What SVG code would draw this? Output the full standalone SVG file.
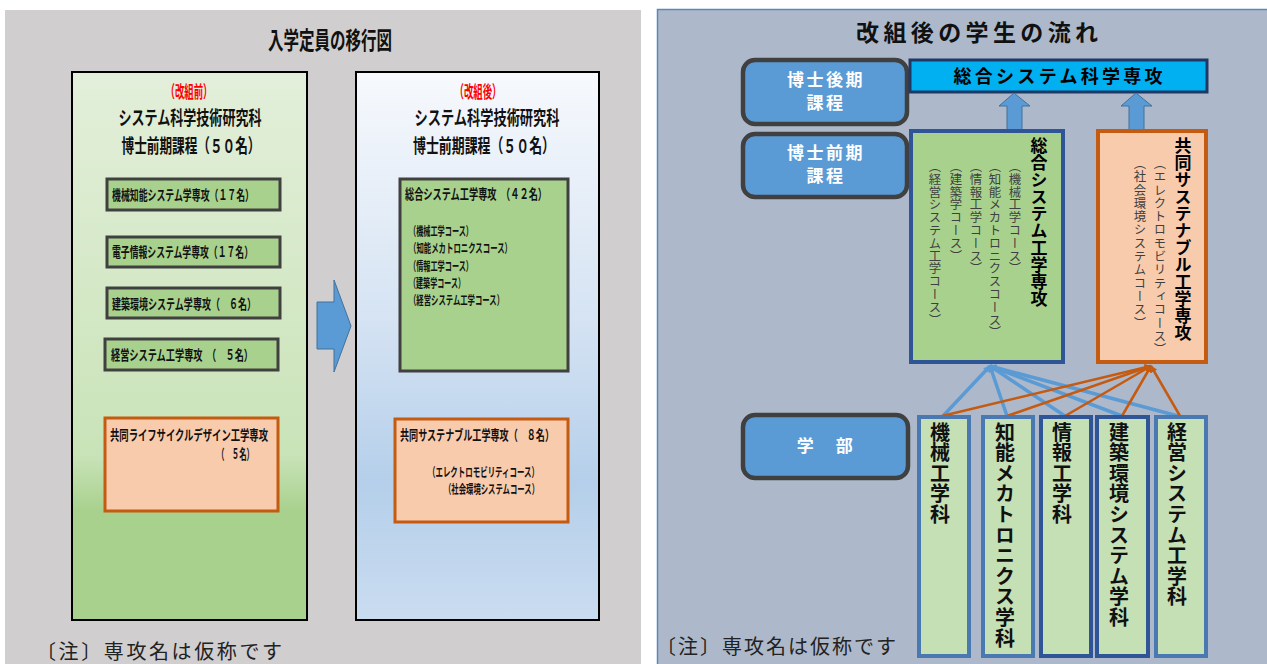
<svg xmlns="http://www.w3.org/2000/svg" width="1267" height="664" viewBox="0 0 1267 664">
<defs>
<linearGradient id="gGreen" x1="0" y1="0" x2="0" y2="1">
<stop offset="0" stop-color="#e3efda"/>
<stop offset="0.7" stop-color="#c9e3b8"/>
<stop offset="0.8" stop-color="#a9d18e"/>
<stop offset="1" stop-color="#a9d18e"/>
</linearGradient>
<linearGradient id="gBlue" x1="0" y1="0" x2="0" y2="1">
<stop offset="0" stop-color="#f7f9fd"/>
<stop offset="0.45" stop-color="#d5e3f3"/>
<stop offset="0.75" stop-color="#b5cfea"/>
<stop offset="1" stop-color="#cadcf0"/>
</linearGradient>
<marker id="mBlue" viewBox="0 0 10 10" refX="9" refY="5" markerWidth="7" markerHeight="7" markerUnits="userSpaceOnUse" orient="auto">
<path d="M0,0 L10,5 L0,10 z" fill="#5b9bd5"/>
</marker>
<marker id="mOrange" viewBox="0 0 10 10" refX="9" refY="5" markerWidth="7" markerHeight="7" markerUnits="userSpaceOnUse" orient="auto">
<path d="M0,0 L10,5 L0,10 z" fill="#c55a11"/>
</marker>
<style>
text{font-family:"Noto Sans CJK JP","Noto Sans CJK SC",sans-serif;}
.cond{font-weight:700;fill:#111;}
.red{fill:#ff0000;}
.big{stroke:#000;stroke-width:2;}
.sg{fill:#a9d18e;stroke:#404040;stroke-width:3;}
.so{fill:#f8cbad;stroke:#c55a11;stroke-width:3;}
.rr{fill:#5b9bd5;stroke:#404040;stroke-width:4.5;}
.wt{fill:#fff;font-weight:700;font-size:17px;letter-spacing:2.5px;text-anchor:middle;}
.vt{writing-mode:vertical-rl;}
.vb{font-weight:700;font-size:17px;fill:#000;}
.vc{font-size:12.4px;fill:#404040;letter-spacing:0.4px;}
.vd{font-weight:700;font-size:20px;fill:#111;letter-spacing:0.6px;}
.dept{fill:#c5e0b4;stroke-width:4;}
.dl{stroke:#4a78b0;}
.dd{stroke:#2f5597;}
.note{font-size:20px;fill:#222;}
.blk{fill:#5b9bd5;stroke:#41719c;stroke-width:1;}
.cb{stroke:#5b9bd5;stroke-width:3.5;fill:none;}
.co{stroke:#c55a11;stroke-width:2.5;fill:none;}
</style>
</defs>
<rect x="0" y="0" width="1267" height="664" fill="#fff"/>

<g id="left-panel">
<rect x="5" y="10" width="636" height="660" fill="#d0cecf"/>
<text class="cond" x="330" y="49" font-size="24" text-anchor="middle" textLength="124" lengthAdjust="spacingAndGlyphs">入学定員の移行図</text>
</g>

<g id="before-box">
<rect class="big" x="72" y="72" width="235" height="548" fill="url(#gGreen)"/>
<text class="cond red" x="189" y="98" font-size="17" text-anchor="middle" textLength="47" lengthAdjust="spacingAndGlyphs">（改組前）</text>
<text class="cond" x="190" y="125" font-size="19" text-anchor="middle" textLength="143" lengthAdjust="spacingAndGlyphs">システム科学技術研究科</text>
<text class="cond" x="191" y="153" font-size="19" text-anchor="middle" textLength="139" lengthAdjust="spacingAndGlyphs">博士前期課程（５０名）</text>
</g>

<g id="b1"><rect class="sg" x="107" y="179" width="173" height="31"/>
<text class="cond" x="112" y="200" font-size="14" textLength="142" lengthAdjust="spacingAndGlyphs">機械知能システム学専攻（１７名）</text></g>
<g id="b2"><rect class="sg" x="107" y="237" width="173" height="30"/>
<text class="cond" x="112" y="257" font-size="14" textLength="141" lengthAdjust="spacingAndGlyphs">電子情報システム学専攻（１７名）</text></g>
<g id="b3"><rect class="sg" x="107" y="288" width="173" height="30"/>
<text class="cond" x="112" y="309" font-size="14" textLength="144" lengthAdjust="spacingAndGlyphs">建築環境システム学専攻（　６名）</text></g>
<g id="b4"><rect class="sg" x="105" y="339" width="173" height="31"/>
<text class="cond" x="111" y="360" font-size="14" textLength="142" lengthAdjust="spacingAndGlyphs">経営システム工学専攻　（　５名）</text></g>
<g id="b5"><rect class="so" x="105" y="418" width="173" height="93"/>
<text class="cond" x="110" y="440" font-size="14" textLength="158" lengthAdjust="spacingAndGlyphs">共同ライフサイクルデザイン工学専攻</text>
<text class="cond" x="217" y="459" font-size="14" textLength="37" lengthAdjust="spacingAndGlyphs">（　５名）</text></g>

<g id="arrow-right">
<polygon class="blk" points="317,302 334,302 334,280 351,326 334,372 334,349 317,349"/>
</g>

<g id="after-box">
<rect class="big" x="356" y="72" width="243" height="548" fill="url(#gBlue)"/>
<text class="cond red" x="478" y="98" font-size="17" text-anchor="middle" textLength="47" lengthAdjust="spacingAndGlyphs">（改組後）</text>
<text class="cond" x="487" y="125" font-size="19" text-anchor="middle" textLength="145" lengthAdjust="spacingAndGlyphs">システム科学技術研究科</text>
<text class="cond" x="484" y="153" font-size="19" text-anchor="middle" textLength="142" lengthAdjust="spacingAndGlyphs">博士前期課程（５０名）</text>
</g>

<g id="a1"><rect class="sg" x="400" y="179" width="168" height="192"/>
<text class="cond" x="405" y="199" font-size="14" textLength="142" lengthAdjust="spacingAndGlyphs">総合システム工学専攻　（４２名）</text>
<text class="cond" x="409" y="236" font-size="12.5" textLength="64" lengthAdjust="spacingAndGlyphs">（機械工学コース）</text>
<text class="cond" x="409" y="253" font-size="12.5" textLength="103" lengthAdjust="spacingAndGlyphs">（知能メカトロニクスコース）</text>
<text class="cond" x="409" y="271" font-size="12.5" textLength="64" lengthAdjust="spacingAndGlyphs">（情報工学コース）</text>
<text class="cond" x="409" y="288" font-size="12.5" textLength="56" lengthAdjust="spacingAndGlyphs">（建築学コース）</text>
<text class="cond" x="409" y="305" font-size="12.5" textLength="95" lengthAdjust="spacingAndGlyphs">（経営システム工学コース）</text></g>
<g id="a2"><rect class="so" x="395" y="419" width="173" height="103"/>
<text class="cond" x="400" y="440" font-size="14" textLength="154" lengthAdjust="spacingAndGlyphs">共同サステナブル工学専攻（　８名）</text>
<text class="cond" x="428" y="477" font-size="12.5" textLength="111" lengthAdjust="spacingAndGlyphs">（エレクトロモビリティコース）</text>
<text class="cond" x="444" y="494" font-size="12.5" textLength="95" lengthAdjust="spacingAndGlyphs">（社会環境システムコース）</text></g>

<g id="note-left">
<text class="note" x="36" y="659" textLength="246" lengthAdjust="spacing">〔注〕専攻名は仮称です</text>
</g>

<g id="right-panel">
<rect x="657.5" y="9.5" width="612" height="660" fill="#adb9ca" stroke="#5b87c0" stroke-width="1.5"/>
<text x="977" y="41" font-size="23" font-weight="700" fill="#111" text-anchor="middle" textLength="242" lengthAdjust="spacing">改組後の学生の流れ</text>
</g>

<g id="doc-late"><rect class="rr" x="743" y="60" width="164" height="64" rx="12"/>
<text class="wt" x="826" y="86">博士後期</text><text class="wt" x="826" y="109">課程</text></g>
<g id="doc-early"><rect class="rr" x="743" y="134" width="164" height="63" rx="12"/>
<text class="wt" x="826" y="159">博士前期</text><text class="wt" x="826" y="182">課程</text></g>
<g id="undergrad"><rect class="rr" x="743" y="415" width="165" height="63" rx="12"/>
<text class="wt" x="826" y="452">学　部</text></g>

<g id="sogo-sci"><rect x="910" y="60" width="297" height="32" fill="#00b0f0" stroke="#203864" stroke-width="3"/>
<text x="1058" y="83" font-size="18" font-weight="700" fill="#000" text-anchor="middle" textLength="209" lengthAdjust="spacing">総合システム科学専攻</text></g>

<g id="up-arrows">
<polygon class="blk" points="1014,93 1030,106 1022,106 1022,131 1007,131 1007,106 999,106"/>
<polygon class="blk" points="1136,93 1152,106 1144,106 1144,131 1129,131 1129,106 1121,106"/>
</g>

<g id="sogo-eng"><rect x="911" y="131" width="152" height="231" fill="#a9d18e" stroke="#2f5597" stroke-width="4"/>
<text class="vt vb" x="1039" y="137">総合システム工学専攻</text>
<text class="vt vc" x="1015" y="160">（機械工学コース）</text>
<text class="vt vc" x="995" y="160">（知能メカトロニクスコース）</text>
<text class="vt vc" x="976" y="160">（情報工学コース）</text>
<text class="vt vc" x="956" y="160">（建築学コース）</text>
<text class="vt vc" x="935" y="160">（経営システム工学コース）</text></g>

<g id="sustainable"><rect x="1098" y="131" width="108" height="231" fill="#f8cbad" stroke="#c55a11" stroke-width="4"/>
<text class="vt vb" x="1183" y="137">共同サステナブル工学専攻</text>
<text class="vt vc" x="1160" y="157" style="letter-spacing:0.9px">（エレクトロモビリティコース）</text>
<text class="vt vc" x="1140" y="157" style="letter-spacing:0.9px">（社会環境システムコース）</text></g>

<g id="connectors">
<line class="cb" x1="943" y1="416" x2="990" y2="366" marker-end="url(#mBlue)"/>
<line class="cb" x1="1007" y1="416" x2="990" y2="366" marker-end="url(#mBlue)"/>
<line class="cb" x1="1065" y1="416" x2="990" y2="366" marker-end="url(#mBlue)"/>
<line class="cb" x1="1122" y1="416" x2="990" y2="366" marker-end="url(#mBlue)"/>
<line class="cb" x1="1178" y1="416" x2="990" y2="366" marker-end="url(#mBlue)"/>
<line class="co" x1="942" y1="416" x2="1151" y2="366" marker-end="url(#mOrange)"/>
<line class="co" x1="1007" y1="416" x2="1151" y2="366" marker-end="url(#mOrange)"/>
<line class="co" x1="1065" y1="416" x2="1151" y2="366" marker-end="url(#mOrange)"/>
<line class="co" x1="1122" y1="416" x2="1151" y2="366" marker-end="url(#mOrange)"/>
<line class="co" x1="1180" y1="416" x2="1151" y2="366" marker-end="url(#mOrange)"/>
</g>

<g id="d1"><rect class="dept dl" x="919" y="417" width="50" height="239"/>
<text class="vt vd" x="940" y="422">機械工学科</text></g>
<g id="d2"><rect class="dept dl" x="983" y="417" width="50" height="239"/>
<text class="vt vd" x="1005" y="422">知能メカトロニクス学科</text></g>
<g id="d3"><rect class="dept dd" x="1041" y="417" width="50" height="239"/>
<text class="vt vd" x="1062" y="422">情報工学科</text></g>
<g id="d4"><rect class="dept dd" x="1097" y="417" width="51" height="239"/>
<text class="vt vd" x="1119" y="422">建築環境システム学科</text></g>
<g id="d5"><rect class="dept dl" x="1156" y="417" width="50" height="239"/>
<text class="vt vd" x="1177" y="422">経営システム工学科</text></g>

<g id="note-right">
<text class="note" x="656" y="654" textLength="240" lengthAdjust="spacing">〔注〕専攻名は仮称です</text>
</g>
</svg>
